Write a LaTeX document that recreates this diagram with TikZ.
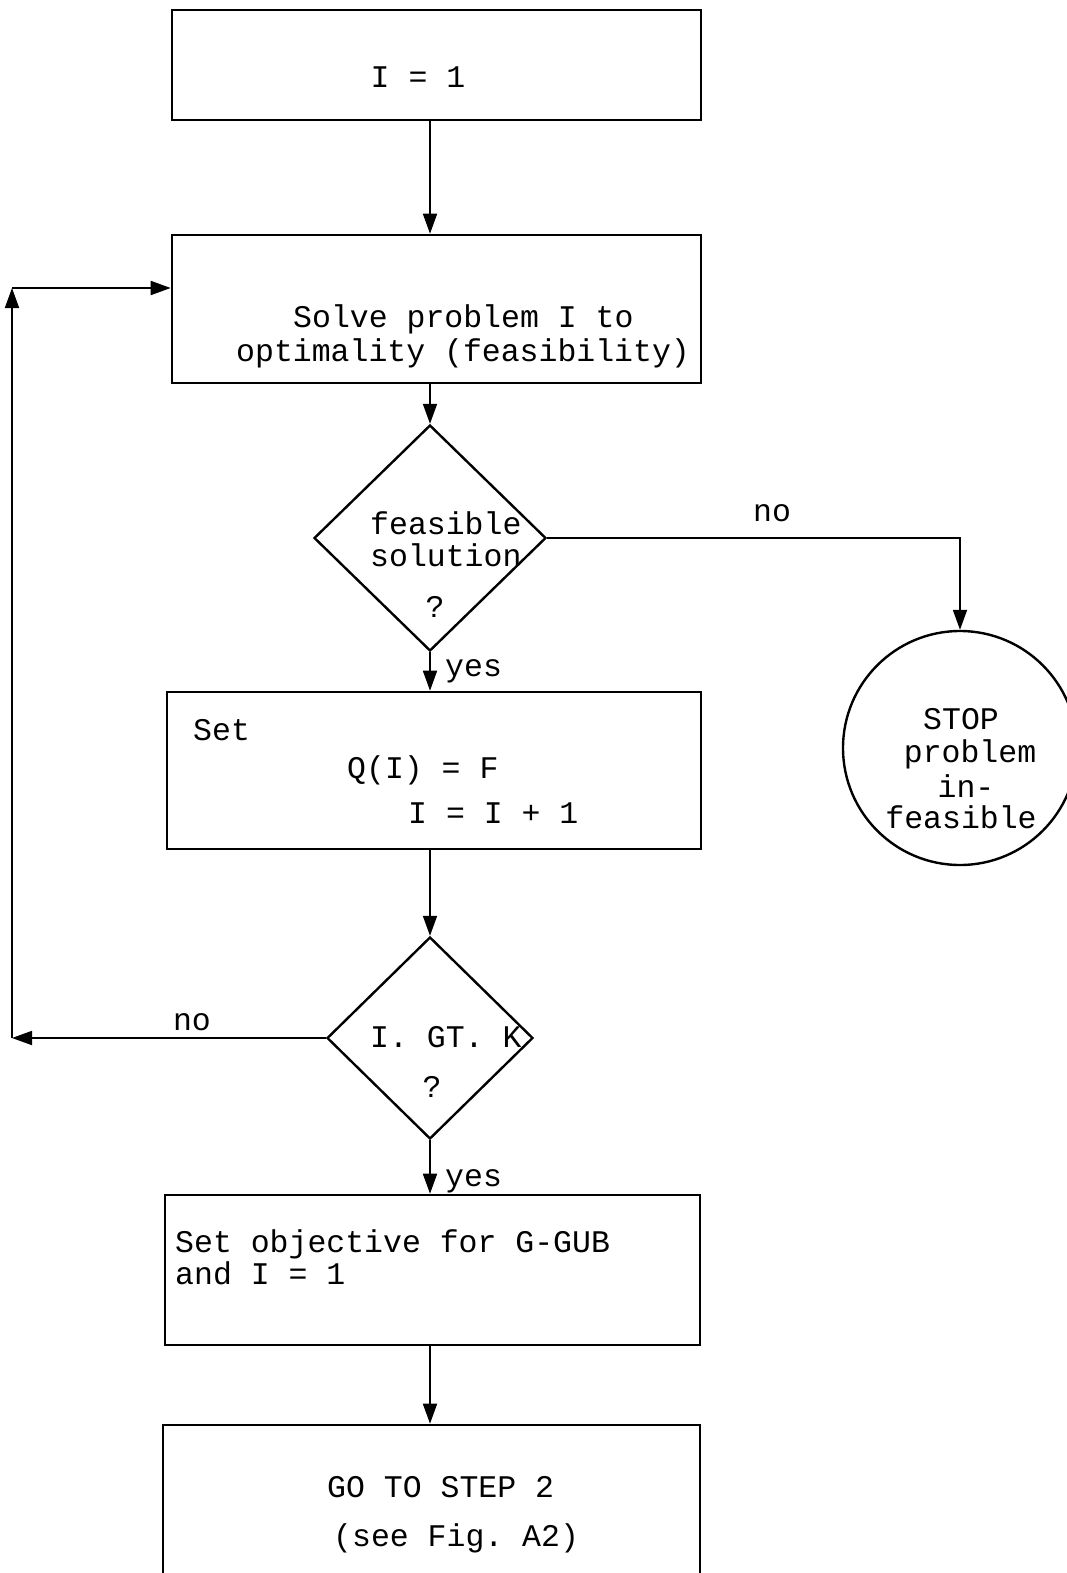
\documentclass[tikz,border=0pt]{standalone}
\usepackage{fontspec}
\setmonofont{Liberation Mono}
\usetikzlibrary{shapes.geometric,arrows.meta}
\begin{document}
\begin{tikzpicture}[x=1pt,y=-1pt,
  box/.style={draw, line width=2.6pt, rectangle, inner sep=0pt},
  dia/.style={draw, line width=2.4pt, diamond, inner sep=0pt},
  circ/.style={draw, line width=2.4pt, circle, inner sep=0pt},
  arr/.style={line width=1.8pt, -{Triangle[length=20pt,width=14pt]}},
  txt/.style={font=\ttfamily\fontsize{31.5}{34}\selectfont, inner sep=0pt},
]
\useasboundingbox (0,0) rectangle (1066,1573);

% shapes
\node[box, minimum width=529pt, minimum height=110pt] (b1) at (436.5,65) {};
\node[box, minimum width=529pt, minimum height=148pt] (b2) at (436.5,309) {};
\node[dia, minimum width=232pt, minimum height=226pt] (d1) at (430,538) {};
\node[circ, minimum size=234pt] (stop) at (960,748) {};
\node[box, minimum width=534pt, minimum height=157pt] (b3) at (434,770.5) {};
\node[dia, minimum width=206pt, minimum height=202pt] (d2) at (430,1038) {};
\node[box, minimum width=535pt, minimum height=150pt] (b4) at (432.5,1270) {};
\node[box, minimum width=537pt, minimum height=175pt] (b5) at (431.5,1512.5) {};

% texts
\node[txt, anchor=mid] (t1) at (418,85) {I = 1};
\node[txt, anchor=mid west] (t2a) at (293,325) {Solve problem I to};
\node[txt, anchor=mid west] (t2b) at (236,359) {optimality (feasibility)};
\node[txt, anchor=mid west] (t3a) at (370,532) {feasible};
\node[txt, anchor=mid west] (t3b) at (370,564) {solution};
\node[txt, anchor=mid] (t3c) at (435,615) {?};
\node[txt, anchor=mid] (no1) at (772,519) {no};
\node[txt, anchor=mid west] (yes1) at (445,674) {yes};
\node[txt, anchor=mid] (s1) at (961,727) {STOP};
\node[txt, anchor=mid] (s2) at (970,760) {problem};
\node[txt, anchor=mid] (s3) at (966,795) {in-};
\node[txt, anchor=mid] (s4) at (961,826) {feasible};
\node[txt, anchor=mid west] (t4a) at (193,738) {Set};
\node[txt, anchor=mid west] (t4b) at (347,776) {Q(I) = F};
\node[txt, anchor=mid west] (t4c) at (408,821) {I = I + 1};
\node[txt, anchor=mid west] (t5a) at (370,1045) {I. GT. K};
\node[txt, anchor=mid] (t5b) at (432,1095) {?};
\node[txt, anchor=mid] (no2) at (192,1028) {no};
\node[txt, anchor=mid west] (yes2) at (445,1184) {yes};
\node[txt, anchor=mid west] (t6a) at (175,1250) {Set objective for G-GUB};
\node[txt, anchor=mid west] (t6b) at (175,1282) {and I = 1};
\node[txt, anchor=mid west] (t7a) at (327,1495) {GO TO STEP 2};
\node[txt, anchor=mid west] (t7b) at (333,1544) {(see Fig. A2)};

% loop corners
\coordinate (L1) at (12,1038);
\coordinate (L2) at (12,288);

% connectors
\draw[arr] (b1.south -| d1.center) -- (b2.north -| d1.center);
\draw[arr] (b2.south -| d1.center) -- (d1.north);
\draw[arr] (d1.east) -| (stop.north);
\draw[arr] (d1.south) -- (b3.north -| d1.center);
\draw[arr] (b3.south -| d2.center) -- (d2.north);
\draw[arr] (d2.south) -- (b4.north -| d2.center);
\draw[arr] (b4.south -| d2.center) -- (b5.north -| d2.center);
\draw[arr] (d2.west) -- (L1);
\draw[arr] (L1) -- (L2);
\draw[arr] (L2) -- (L2 -| b2.west);
\end{tikzpicture}
\end{document}
